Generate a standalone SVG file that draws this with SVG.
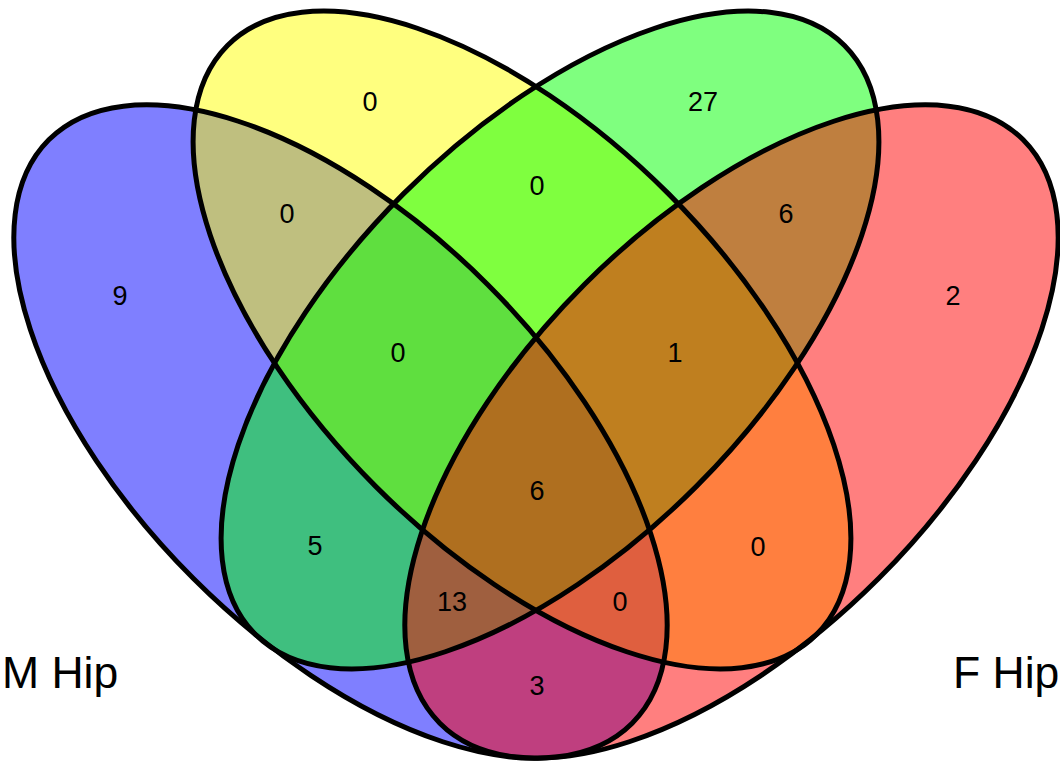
<svg xmlns="http://www.w3.org/2000/svg" width="1060" height="764" viewBox="0 0 1060 764">
<style>
  .fill{fill-opacity:0.5;stroke:none}
  .outline{fill:none;stroke:#000;stroke-width:5}
  text{font-family:"Liberation Sans",Arial,Helvetica,sans-serif;fill:#000}
  .count{font-size:27px;text-anchor:middle}
  .label{font-size:44.5px}
</style>
<rect width="1060" height="764" fill="#ffffff"/>
<g id="set-m-hip">
  <ellipse class="fill" fill="#0000ff" cx="340.5" cy="431.5" rx="412.5" ry="208" transform="rotate(45 340.5 431.5)"/>
  <text class="label" x="2" y="688">M Hip</text>
</g>
<g id="set-yellow">
  <ellipse class="fill" fill="#ffff00" cx="522" cy="340" rx="416.5" ry="207" transform="rotate(45 522 340)"/>
</g>
<g id="set-green">
  <ellipse class="fill" fill="#00ff00" cx="550" cy="340" rx="416.5" ry="207" transform="rotate(-45 550 340)"/>
</g>
<g id="set-f-hip">
  <ellipse class="fill" fill="#ff0000" cx="731.5" cy="431.5" rx="412.5" ry="208" transform="rotate(-45 731.5 431.5)"/>
  <text class="label" x="953" y="688">F Hip</text>
</g>
<g id="outlines">
  <ellipse class="outline" cx="340.5" cy="431.5" rx="412.5" ry="208" transform="rotate(45 340.5 431.5)"/>
  <ellipse class="outline" cx="522" cy="340" rx="416.5" ry="207" transform="rotate(45 522 340)"/>
  <ellipse class="outline" cx="550" cy="340" rx="416.5" ry="207" transform="rotate(-45 550 340)"/>
  <ellipse class="outline" cx="731.5" cy="431.5" rx="412.5" ry="208" transform="rotate(-45 731.5 431.5)"/>
</g>
<g id="counts">
  <text class="count" x="120" y="305">9</text>
  <text class="count" x="370" y="111">0</text>
  <text class="count" x="703" y="111">27</text>
  <text class="count" x="953" y="305">2</text>
  <text class="count" x="287" y="223">0</text>
  <text class="count" x="537" y="195">0</text>
  <text class="count" x="786" y="223">6</text>
  <text class="count" x="398" y="362">0</text>
  <text class="count" x="675" y="362">1</text>
  <text class="count" x="537" y="500">6</text>
  <text class="count" x="315" y="555">5</text>
  <text class="count" x="758" y="556">0</text>
  <text class="count" x="452" y="611">13</text>
  <text class="count" x="620" y="611">0</text>
  <text class="count" x="537" y="695">3</text>
</g>
</svg>
